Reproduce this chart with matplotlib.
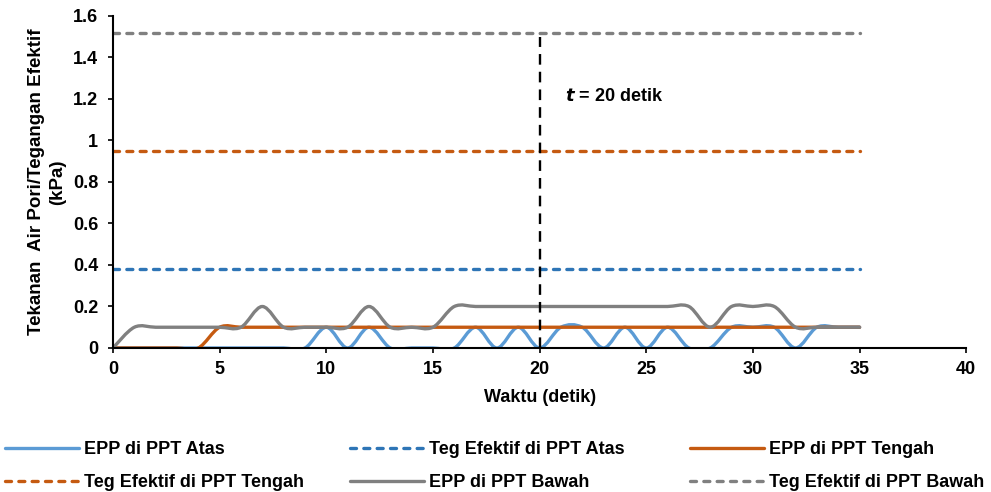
import numpy as np
import matplotlib
matplotlib.use("Agg")
import matplotlib.pyplot as plt
from matplotlib.path import Path
from matplotlib.patches import PathPatch
from matplotlib.lines import Line2D
from matplotlib.ticker import FuncFormatter

plt.rcParams['font.family'] = ['Liberation Sans', 'DejaVu Sans']
plt.rcParams['font.weight'] = 'bold'

# Waktu (detik) dan pembacaan PPT (kPa)
waktu = list(range(36))
epp_atas = [0, 0, 0, 0, 0, 0, 0, 0, 0, 0, 0.1, 0, 0.1, 0, 0, 0, 0, 0.1,
            0, 0.1, 0, 0.1, 0.1, 0, 0.1, 0, 0.1, 0, 0, 0.1, 0.1, 0.1, 0, 0.1, 0.1, 0.1]
epp_tengah = [0, 0, 0, 0, 0, 0.1, 0.1, 0.1, 0.1, 0.1, 0.1, 0.1, 0.1, 0.1, 0.1, 0.1, 0.1, 0.1,
              0.1, 0.1, 0.1, 0.1, 0.1, 0.1, 0.1, 0.1, 0.1, 0.1, 0.1, 0.1, 0.1, 0.1, 0.1, 0.1, 0.1, 0.1]
epp_bawah = [0, 0.1, 0.1, 0.1, 0.1, 0.1, 0.1, 0.2, 0.1, 0.1, 0.1, 0.1, 0.2, 0.1, 0.1, 0.1, 0.2, 0.2,
             0.2, 0.2, 0.2, 0.2, 0.2, 0.2, 0.2, 0.2, 0.2, 0.2, 0.1, 0.2, 0.2, 0.2, 0.1, 0.1, 0.1, 0.1]
teg_atas = 0.38
teg_tengah = 0.95
teg_bawah = 1.52
t_garis = 20
t_garis_top = 1.5

labels = ["EPP di PPT Atas", "Teg Efektif di PPT Atas", "EPP di PPT Tengah",
          "Teg Efektif di PPT Tengah", "EPP di PPT Bawah", "Teg Efektif di PPT Bawah"]

c_blue = '#5B9BD5'
c_blue_d = '#2E75B6'
c_orange = '#C55A11'
c_gray = '#808080'


def smooth_path(x, y):
    # smoothed line like Excel (Catmull-Rom as bezier)
    pts = np.column_stack([x, y]).astype(float)
    n = len(pts)
    verts = [pts[0]]
    codes = [Path.MOVETO]
    for i in range(n - 1):
        p0 = pts[max(i - 1, 0)]
        p1 = pts[i]
        p2 = pts[i + 1]
        p3 = pts[min(i + 2, n - 1)]
        verts += [p1 + (p2 - p0) / 6, p2 - (p3 - p1) / 6, p2]
        codes += [Path.CURVE4] * 3
    return Path(verts, codes)


fig = plt.figure(figsize=(9.91, 4.92), dpi=100)
ax = fig.add_axes([0.114, 0.2927, 0.861, 0.6748])

lw = 2.4
dash = dict(dashes=(1.8, 2.2), dash_capstyle='round')


def add_smooth(y, color, z):
    ax.add_patch(PathPatch(smooth_path(waktu, y), facecolor='none', edgecolor=color,
                           lw=lw, capstyle='round', joinstyle='round', zorder=z))


add_smooth(epp_atas, c_blue, 2)
ax.plot([waktu[0], waktu[-1]], [teg_atas, teg_atas], color=c_blue_d, lw=lw, zorder=2.1, **dash)
add_smooth(epp_tengah, c_orange, 2.2)
ax.plot([waktu[0], waktu[-1]], [teg_tengah, teg_tengah], color=c_orange, lw=lw, zorder=2.3, **dash)
add_smooth(epp_bawah, c_gray, 2.4)
ax.plot([waktu[0], waktu[-1]], [teg_bawah, teg_bawah], color=c_gray, lw=lw, zorder=2.5, **dash)

ax.plot([t_garis, t_garis], [0, t_garis_top], color='black', lw=1.7, dashes=(4.5, 3), zorder=3)
ax.text(21.2, 1.21, r'$\bf{\it{t}}$ = 20 detik', fontsize=13, fontweight='bold', va='center')

ax.set_xlim(0, 40)
ax.set_ylim(0, 1.6)
ax.set_xticks(np.arange(0, 41, 5))
ax.set_yticks(np.arange(0, 1.61, 0.2))
ax.yaxis.set_major_formatter(FuncFormatter(lambda v, p: '{:g}'.format(round(v, 2))))
for s in ['top', 'right']:
    ax.spines[s].set_visible(False)
for s in ['left', 'bottom']:
    ax.spines[s].set_linewidth(1.5)
ax.tick_params(direction='out', length=3.6, width=1.2, labelsize=13)
ax.tick_params(axis='x', pad=6)
ax.tick_params(axis='y', pad=7)
for lab in ax.get_xticklabels() + ax.get_yticklabels():
    lab.set_fontweight('bold')

ax.set_xlabel('Waktu (detik)', fontsize=13, fontweight='bold', labelpad=8)
ax.set_ylabel('Tekanan  Air Pori/Tegangan Efektif\n(kPa)', fontsize=13.5,
              fontweight='bold', labelpad=5, linespacing=1.35)

handles = [
    Line2D([], [], color=c_blue, lw=lw, solid_capstyle='round'),
    Line2D([], [], color=c_blue_d, lw=lw, **dash),
    Line2D([], [], color=c_orange, lw=lw, solid_capstyle='round'),
    Line2D([], [], color=c_orange, lw=lw, **dash),
    Line2D([], [], color=c_gray, lw=lw, solid_capstyle='round'),
    Line2D([], [], color=c_gray, lw=lw, **dash),
]

col_x = [5 / 991, 350 / 991, 690 / 991]
for k in range(3):
    idx = [k, k + 3]
    fig.legend([handles[i] for i in idx], [labels[i] for i in idx],
               loc='upper left', bbox_to_anchor=(col_x[k], 1 - 441 / 492),
               frameon=False, handlelength=4.1, handletextpad=0.3,
               borderpad=0, borderaxespad=0, labelspacing=0.9,
               prop={'weight': 'bold', 'size': 13})

fig.savefig('out.png', dpi=100)
